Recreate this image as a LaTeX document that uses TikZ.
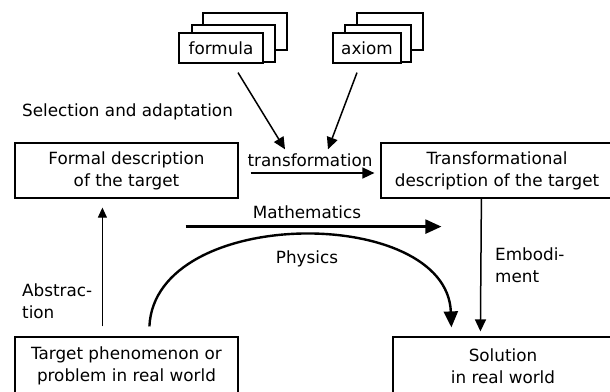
\documentclass[tikz,border=0pt]{standalone}
\usepackage{fontspec}
\setmainfont{DejaVu Sans}
\usetikzlibrary{arrows.meta, positioning, calc}

\begin{document}
\begin{tikzpicture}[
      x=1pt, y=-1pt,
      every node/.style={font=\fontsize{16.8}{22}\selectfont, inner sep=0pt},
      box/.style={draw, line width=1.2pt, align=center},
      card/.style={draw, line width=1.2pt, fill=white},
      slimarrow/.style={line width=1pt, -{Triangle[length=10pt,width=9pt]}},
      medarrow/.style={line width=1.5pt, -{Triangle[length=12pt,width=11pt]}},
      boldarrow/.style={line width=2.4pt, -{Triangle[length=16pt,width=14pt]}}
    ]
      \useasboundingbox (0,0) rectangle (610,391);

      % card stacks
      \node[card, minimum width=84pt, minimum height=37pt] (formula3) at (245,31.5) {};
      \node[card, minimum width=83pt, minimum height=37pt] (formula2) at (233.5,43.5) {};
      \node[card, minimum width=84pt, minimum height=30pt] (formula) at (221,48) {formula};
      \node[card, minimum width=66pt, minimum height=37pt] (axiom3) at (390,31.5) {};
      \node[card, minimum width=66pt, minimum height=37pt] (axiom2) at (378,43.5) {};
      \node[card, minimum width=68pt, minimum height=30pt] (axiom) at (367,48) {axiom};

      % boxes
      \node[box, minimum width=223pt, minimum height=55pt] (formal) at (126.5,170.5)
        {Formal description\\of the target};
      \node[box, minimum width=232pt, minimum height=55pt] (transf) at (497,170.5)
        {Transformational\\description of the target};
      \node[box, minimum width=223pt, minimum height=58pt] (target) at (126.5,366)
        {Target phenomenon or\\problem in real world};
      \node[box, minimum width=220pt, minimum height=58pt] (solution) at (503,366)
        {Solution\\in real world};

      % labels
      \node[anchor=west] (select) at (22,112) {Selection and adaptation};
      \node (trans) at (310,160) {transformation};
      \node (math) at (307,212) {Mathematics};
      \node (phys) at (307,259) {Physics};
      \node[anchor=west, align=left] (abstr) at (22,301) {Abstrac-\\tion};
      \node[anchor=west, align=left] (embod) at (495,265) {Embodi-\\ment};

      % connectors
      \draw[medarrow] ($(formula.south)+(17,9)$) -- ($(trans.north)+(-25,-4)$);
      \draw[medarrow] ($(axiom.south)+(-10,9)$) -- ($(trans.north)+(18,-4)$);
      \draw[medarrow] ($(formal.east)+(12,2.5)$) -- ($(transf.west)+(-6,2.5)$);
      \draw[boldarrow] ($(formal.south east)+(-53,28)$) -- ($(transf.south west)+(61,28)$);
      \draw[slimarrow] ($(target.north west)+(88,-10)$) -- ($(formal.south west)+(88,9)$);
      \draw[medarrow] ($(transf.south west)+(101,0)$) -- ($(solution.north west)+(88,-5)$);
      \draw[boldarrow] ($(target.north west)+(135,-10)$)
        .. controls (155,205) and (447,205) .. ($(solution.north west)+(59,-9)$);
    \end{tikzpicture}
\end{document}
